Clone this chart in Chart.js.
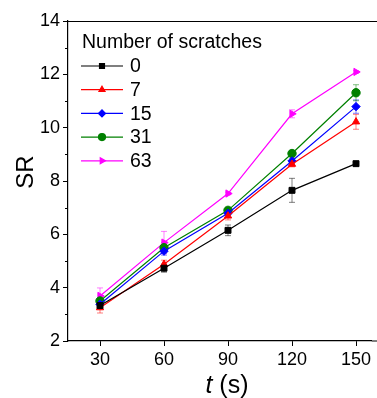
<!DOCTYPE html>
<html>
<head>
<meta charset="utf-8">
<script src="https://cdn.jsdelivr.net/npm/chart.js@4"></script>
<style>
  html, body { margin: 0; padding: 0; background: #fff; }
  #wrap { width: 377px; height: 398px; }
</style>
</head>
<body>
<div id="wrap"><canvas id="chart" width="377" height="398"></canvas></div>
<script>
const times = [30, 60, 90, 120, 150];
const seriesNames = ['0', '7', '15', '31', '63'];
const sr0  = [3.33, 4.73, 6.15, 7.65, 8.65];
const sr7  = [3.25, 4.88, 6.69, 8.63, 10.22];
const sr15 = [3.38, 5.37, 6.79, 8.75, 10.79];
const sr31 = [3.50, 5.50, 6.90, 9.03, 11.31];
const sr63 = [3.69, 5.69, 7.53, 10.52, 12.09];
const err0  = [0.10, 0.15, 0.20, 0.45, 0.05];
const err7  = [0.20, 0.15, 0.15, 0.10, 0.28];
const err15 = [0.10, 0.15, 0.10, 0.10, 0.25];
const err31 = [0.10, 0.20, 0.10, 0.10, 0.30];
const err63 = [0.30, 0.42, 0.05, 0.15, 0.05];
const xTicks = [30, 60, 90, 120, 150];
const yTicks = [2, 4, 6, 8, 10, 12, 14];
const yMinorTicks = [3, 5, 7, 9, 11, 13];

const font = 'Arial, "Liberation Sans", sans-serif';

function mk(label, vals, errs, color, style, rot) {
    return {
        label: label,
        data: vals.map((v, i) => ({ x: times[i], y: v })),
        errors: errs,
        borderColor: color,
        backgroundColor: color,
        borderWidth: 1.2,
        pointStyle: style,
        pointRotation: rot || 0,
        pointRadius: 4.2,
        pointBorderWidth: 1,
        tension: 0
    };
}

// error bars, drawn under the markers
const errorBars = {
    id: 'errorBars',
    beforeDatasetsDraw(chart) {
        const ctx = chart.ctx;
        const xs = chart.scales.x, ys = chart.scales.y;
        chart.data.datasets.forEach(ds => {
            ctx.save();
            ctx.strokeStyle = ds.borderColor;
            ctx.globalAlpha = 0.5;
            ctx.lineWidth = 1;
            ds.data.forEach((p, i) => {
                const e = ds.errors[i];
                const px = xs.getPixelForValue(p.x);
                const y1 = ys.getPixelForValue(p.y - e);
                const y2 = ys.getPixelForValue(p.y + e);
                ctx.beginPath();
                ctx.moveTo(px, y1); ctx.lineTo(px, y2);
                ctx.moveTo(px - 3, y1); ctx.lineTo(px + 3, y1);
                ctx.moveTo(px - 3, y2); ctx.lineTo(px + 3, y2);
                ctx.stroke();
            });
            ctx.restore();
        });
    }
};

// frame, minor ticks, axis titles, legend inside the plot
const decor = {
    id: 'decor',
    afterDraw(chart) {
        const ctx = chart.ctx;
        const a = chart.chartArea;
        const ys = chart.scales.y;
        ctx.save();
        ctx.strokeStyle = '#000';
        ctx.lineWidth = 1.2;
        ctx.beginPath();
        ctx.moveTo(a.left, a.top + 0.5);
        ctx.lineTo(chart.width, a.top + 0.5);
        ctx.moveTo(a.right, a.bottom);
        ctx.lineTo(chart.width, a.bottom);
        ctx.stroke();
        ctx.lineWidth = 1;
        ctx.beginPath();
        yMinorTicks.forEach(v => {
            const py = Math.round(ys.getPixelForValue(v)) + 0.5;
            ctx.moveTo(a.left - 3, py);
            ctx.lineTo(a.left, py);
        });
        ctx.stroke();

        // y title
        ctx.fillStyle = '#000';
        ctx.textAlign = 'center';
        ctx.textBaseline = 'middle';
        ctx.save();
        ctx.translate(25, 172);
        ctx.rotate(-Math.PI / 2);
        ctx.font = '24px ' + font;
        ctx.fillText('SR', 0, 1);
        ctx.restore();

        // x title: t (s)
        ctx.textAlign = 'left';
        ctx.font = 'italic 25px ' + font;
        const w1 = ctx.measureText('t').width;
        ctx.font = '25px ' + font;
        const w2 = ctx.measureText(' (s)').width;
        const sx = 227 - (w1 + w2) / 2;
        ctx.font = 'italic 25px ' + font;
        ctx.fillText('t', sx, 386);
        ctx.font = '25px ' + font;
        ctx.fillText(' (s)', sx + w1, 386);

        // legend
        ctx.font = '19.5px ' + font;
        ctx.fillText('Number of scratches', 82, 43);
        chart.data.datasets.forEach((ds, i) => {
            const cy = 66 + i * 23.7;
            ctx.strokeStyle = ds.borderColor;
            ctx.lineWidth = 1.2;
            ctx.beginPath();
            ctx.moveTo(81, cy); ctx.lineTo(123, cy);
            ctx.stroke();
            ctx.fillStyle = ds.backgroundColor;
            Chart.helpers.drawPoint(ctx, {
                pointStyle: ds.pointStyle,
                radius: 3.5,
                rotation: ds.pointRotation,
                borderWidth: 1
            }, 102, cy);
            ctx.fillStyle = '#000';
            ctx.fillText(ds.label, 130, cy + 1);
        });
        ctx.restore();
    }
};

new Chart(document.getElementById('chart'), {
    type: 'line',
    data: {
        datasets: [
            mk(seriesNames[0], sr0, err0, '#000000', 'rect'),
            mk(seriesNames[1], sr7, err7, '#ff0000', 'triangle'),
            mk(seriesNames[2], sr15, err15, '#0000ff', 'rectRot'),
            mk(seriesNames[3], sr31, err31, '#008000', 'circle'),
            mk(seriesNames[4], sr63, err63, '#ff00ff', 'triangle', 90)
        ]
    },
    options: {
        responsive: false,
        animation: false,
        layout: { padding: { top: 21, right: 0, left: 0, bottom: 0 } },
        plugins: { legend: { display: false }, tooltip: { enabled: false } },
        scales: {
            x: {
                type: 'linear',
                min: 15, max: 157.4,
                afterBuildTicks: s => { s.ticks = xTicks.map(v => ({ value: v })); },
                afterFit: s => { s.height = 57; },
                grid: { drawOnChartArea: false, tickLength: 5, color: '#000', tickWidth: 1 },
                border: { color: '#000', width: 1.2 },
                ticks: { color: '#000', font: { family: font, size: 18 }, padding: 3, maxRotation: 0 }
            },
            y: {
                min: 2, max: 14,
                afterBuildTicks: s => { s.ticks = yTicks.map(v => ({ value: v })); },
                afterFit: s => { s.width = 68; },
                grid: { drawOnChartArea: false, tickLength: 5, color: '#000' },
                border: { color: '#000', width: 1.2 },
                ticks: { color: '#000', font: { family: font, size: 18 }, padding: 3 }
            }
        }
    },
    plugins: [errorBars, decor]
});
</script>
</body>
</html>
